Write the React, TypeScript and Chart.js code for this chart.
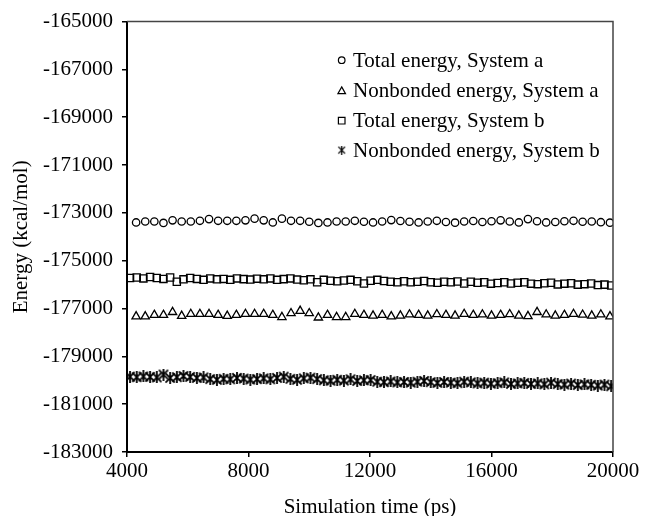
import React, { useEffect, useRef } from 'react';
import { Chart, registerables } from 'chart.js';

Chart.register(...registerables);

// Simulation time (ps) for System a series
const timesA = [
  4300, 4600, 4900, 5200, 5500, 5800, 6100, 6400, 6700, 7000,
  7300, 7600, 7900, 8200, 8500, 8800, 9100, 9400, 9700, 10000,
  10300, 10600, 10900, 11200, 11500, 11800, 12100, 12400, 12700, 13000,
  13300, 13600, 13900, 14200, 14500, 14800, 15100, 15400, 15700, 16000,
  16300, 16600, 16900, 17200, 17500, 17800, 18100, 18400, 18700, 19000,
  19300, 19600, 19900,
];

// Simulation time (ps) for System b series
const timesB = [
  4100, 4320, 4540, 4760, 4980, 5200, 5420, 5640, 5860, 6080,
  6300, 6520, 6740, 6960, 7180, 7400, 7620, 7840, 8060, 8280,
  8500, 8720, 8940, 9160, 9380, 9600, 9820, 10040, 10260, 10480,
  10700, 10920, 11140, 11360, 11580, 11800, 12020, 12240, 12460, 12680,
  12900, 13120, 13340, 13560, 13780, 14000, 14220, 14440, 14660, 14880,
  15100, 15320, 15540, 15760, 15980, 16200, 16420, 16640, 16860, 17080,
  17300, 17520, 17740, 17960, 18180, 18400, 18620, 18840, 19060, 19280,
  19500, 19720, 19940,
];

const totalA = [
  -173400, -173360, -173360, -173420, -173310, -173360, -173360, -173330, -173260, -173330,
  -173330, -173330, -173310, -173240, -173310, -173400, -173240, -173330, -173330, -173370,
  -173420, -173400, -173360, -173360, -173330, -173370,
  -173400, -173360, -173300, -173340, -173370, -173400, -173360, -173330, -173380, -173410,
  -173360, -173340, -173380, -173350, -173310, -173360, -173400, -173260, -173350, -173400,
  -173380, -173350, -173330, -173370, -173360, -173390, -173410,
];

const nonbondedA = [
  -177330, -177330, -177270, -177270, -177150, -177310, -177230, -177230, -177230, -177270,
  -177310, -177270, -177230, -177230, -177230, -177270, -177360, -177200, -177100, -177200,
  -177380, -177270, -177360, -177360, -177230, -177270,
  -177300, -177270, -177330, -177300, -177250, -177270, -177300, -177240, -177270, -177300,
  -177230, -177270, -177250, -177300, -177270, -177240, -177300, -177320, -177150, -177250,
  -177300, -177270, -177230, -177260, -177300, -177250, -177330,
];

const totalB = [
  -175720, -175700, -175740, -175680, -175720, -175760, -175700, -175880, -175780, -175720,
  -175760, -175800, -175740, -175780, -175760, -175800, -175740, -175770, -175790, -175750,
  -175780, -175740, -175800, -175770, -175740, -175790, -175820, -175780, -175900, -175800,
  -175840, -175860, -175830, -175800, -175860, -175950, -175840, -175800, -175850, -175880,
  -175900, -175860, -175900, -175880, -175850, -175900, -175920, -175880, -175900, -175870,
  -175950, -175880, -175920, -175900, -175960, -175930, -175900, -175950, -175920, -175900,
  -175960, -175980, -175940, -175920, -175990, -175960, -175940, -176000, -175980, -175950,
  -176020, -176000, -176040,
];

const nonbondedB = [
  -179850, -179870, -179840, -179860, -179880, -179760, -179900, -179870, -179820, -179860,
  -179900, -179880, -179950, -179980, -179940, -179960, -179900, -179930, -179970, -179950,
  -179920, -179960, -179900, -179850, -179940, -179980, -179920, -179890, -179950, -180000,
  -180020, -179980, -180010, -179960, -180030, -180000, -179990, -180060, -180080, -180050,
  -180090, -180070, -180100, -180060, -180030, -180080, -180110, -180070, -180100, -180120,
  -180060, -180090, -180130, -180100, -180140, -180120, -180090, -180150, -180130, -180110,
  -180150, -180130, -180170, -180100, -180160, -180180, -180140, -180200, -180170, -180190,
  -180220, -180180, -180250,
];

const seriesLabels = [
  'Total energy, System a',
  'Nonbonded energy, System a',
  'Total energy, System b',
  'Nonbonded energy, System b',
];

const xTicksMin = 4000;
const xTicksMax = 20000;
const xTickStep = 4000;
const yTicksMin = -183000;
const yTicksMax = -165000;
const yTickStep = 2000;

const FONT = '"Liberation Serif", "Times New Roman", serif';
const FS = 21;

function makeStar(size: number, lw: number): HTMLCanvasElement {
  const c = document.createElement('canvas');
  c.width = size;
  c.height = size;
  const g = c.getContext('2d')!;
  const m = lw / 2 + 0.5;
  const mid = size / 2;
  g.strokeStyle = '#000';
  g.lineWidth = lw;
  g.beginPath();
  g.moveTo(m, m);
  g.lineTo(size - m, size - m);
  g.moveTo(size - m, m);
  g.lineTo(m, size - m);
  g.moveTo(mid, 0);
  g.lineTo(mid, size);
  g.stroke();
  return c;
}

function drawMarker(ctx: CanvasRenderingContext2D, kind: number, x: number, y: number, star: HTMLCanvasElement) {
  ctx.save();
  ctx.strokeStyle = '#000';
  ctx.fillStyle = '#fff';
  ctx.lineWidth = 1.2;
  ctx.beginPath();
  if (kind === 0) {
    ctx.arc(x, y, 3.3, 0, Math.PI * 2);
    ctx.fill();
    ctx.stroke();
  } else if (kind === 1) {
    ctx.moveTo(x, y - 3.8);
    ctx.lineTo(x + 3.8, y + 3);
    ctx.lineTo(x - 3.8, y + 3);
    ctx.closePath();
    ctx.fill();
    ctx.stroke();
  } else if (kind === 2) {
    ctx.rect(x - 3.3, y - 3.3, 6.6, 6.6);
    ctx.fill();
    ctx.stroke();
  } else {
    ctx.drawImage(star, x - star.width / 2, y - star.height / 2);
  }
  ctx.restore();
}

export default function App() {
  const ref = useRef<HTMLCanvasElement | null>(null);

  useEffect(() => {
    document.body.style.margin = '0';
    const canvas = ref.current;
    if (!canvas) return;
    const star = makeStar(12, 1.8);
    const legendStar = makeStar(9, 1.3);

    const toPts = (xs: number[], ys: number[]) => ys.map((y, i) => ({ x: xs[i], y }));

    const frame = {
      id: 'frame',
      afterDraw(chart: any) {
        const { ctx, chartArea } = chart;
        ctx.save();
        ctx.strokeStyle = '#444';
        ctx.lineWidth = 1.5;
        ctx.beginPath();
        ctx.moveTo(chartArea.left, chartArea.top);
        ctx.lineTo(chartArea.right, chartArea.top);
        ctx.lineTo(chartArea.right, chartArea.bottom);
        ctx.stroke();
        ctx.restore();

        // legend
        const rows = [66.7, 97.2, 127.2, 156.6];
        ctx.save();
        ctx.font = `${FS}px ${FONT}`;
        ctx.fillStyle = '#000';
        ctx.textBaseline = 'alphabetic';
        ctx.textAlign = 'left';
        seriesLabels.forEach((lab, i) => {
          drawMarker(ctx, i, 341.7, rows[i] - 6.5, legendStar);
          ctx.fillText(lab, 353, rows[i]);
        });
        ctx.restore();
      },
    };

    const common = { showLine: false, borderColor: '#000', backgroundColor: 'rgba(0,0,0,0)', borderWidth: 1.3 };

    const chart = new Chart(canvas, {
      type: 'scatter',
      data: {
        datasets: [
          { ...common, label: seriesLabels[0], data: toPts(timesA, totalA), pointStyle: 'circle', pointRadius: 3.7 },
          { ...common, label: seriesLabels[1], data: toPts(timesA, nonbondedA), pointStyle: 'triangle', pointRadius: 4.8 },
          { ...common, label: seriesLabels[2], data: toPts(timesB, totalB), pointStyle: 'rect', pointRadius: 5.1 },
          { ...common, label: seriesLabels[3], data: toPts(timesB, nonbondedB), pointStyle: star as any, pointRadius: 6 },
        ],
      },
      options: {
        animation: false,
        responsive: false,
        devicePixelRatio: 1,
        layout: { padding: { top: 20, right: 32, left: 0, bottom: 0 } },
        plugins: {
          legend: { display: false },
          tooltip: { enabled: false },
        },
        scales: {
          x: {
            type: 'linear',
            min: xTicksMin,
            max: xTicksMax,
            afterFit: (s: any) => { s.height = 64; },
            ticks: {
              stepSize: xTickStep,
              color: '#000',
              font: { family: FONT, size: FS },
              padding: 2,
              maxRotation: 0,
              callback: (v: any) => String(v),
            },
            grid: { drawOnChartArea: false, drawTicks: true, tickLength: 5, color: '#000', lineWidth: 1.5 },
            border: { display: true, color: '#000', width: 2 },
            title: {
              display: true,
              text: 'Simulation time (ps)',
              color: '#000',
              font: { family: FONT, size: FS, lineHeight: 1 },
              padding: { top: 0, bottom: -2 },
            },
          },
          y: {
            type: 'linear',
            min: yTicksMin,
            max: yTicksMax,
            afterFit: (s: any) => { s.width = 127; },
            ticks: {
              stepSize: yTickStep,
              color: '#000',
              font: { family: FONT, size: FS },
              padding: 9,
              callback: (v: any) => String(v),
            },
            grid: { drawOnChartArea: false, drawTicks: true, tickLength: 5, color: '#000', lineWidth: 1.5 },
            border: { display: true, color: '#000', width: 2 },
            title: {
              display: true,
              text: 'Energy (kcal/mol)',
              color: '#000',
              font: { family: FONT, size: FS, lineHeight: 1 },
              padding: { top: 11, bottom: 0 },
            },
          },
        },
      },
      plugins: [frame],
    });

    return () => chart.destroy();
  }, []);

  return (
    <div style={{ width: 645, height: 516 }}>
      <canvas ref={ref} width={645} height={516} style={{ display: 'block' }} />
    </div>
  );
}
